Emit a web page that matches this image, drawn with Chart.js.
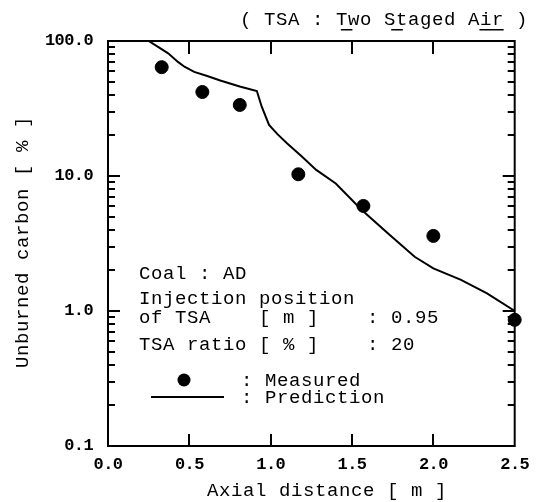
<!DOCTYPE html>
<html><head><meta charset="utf-8">
<script src="https://cdn.jsdelivr.net/npm/chart.js@4/dist/chart.umd.min.js"></script>
<style>html,body{margin:0;padding:0;background:#fff;}#wrap{width:539px;height:502px;position:relative;}</style>
</head><body><div id="wrap"><canvas id="c" width="539" height="502"></canvas></div>
<script>
// ---- data ----
const measuredX = [0.33, 0.58, 0.81, 1.17, 1.57, 2.0, 2.5];
const measuredY = [64, 41.9, 33.6, 10.3, 6.0, 3.6, 0.86];
const predX = [0.25,0.31,0.37,0.43,0.47,0.53,0.61,0.69,0.81,0.915,0.945,0.99,1.04,1.10,1.19,1.28,1.40,1.56,1.72,1.885,2.0,2.17,2.33,2.5];
const predY = [100,90,81,70,64.5,59,55,51,46,42.6,32.6,23.9,20.5,17.5,14,11.1,8.8,5.6,3.77,2.52,2.07,1.70,1.35,1.0];
const xTickValues = [0, 0.5, 1.0, 1.5, 2.0, 2.5];
const xTickLabels = ['0.0', '0.5', '1.0', '1.5', '2.0', '2.5'];
const yTickValues = [0.1, 1, 10, 100];
const yTickLabels = ['0.1', '1.0', '10.0', '100.0'];
const yMinorValues = [0.2,0.3,0.4,0.5,0.6,0.7,0.8,0.9,2,3,4,5,6,7,8,9,20,30,40,50,60,70,80,90];
const titleText = '( TSA : Two Staged Air )';
const xTitle = 'Axial distance [ m ]';
const yTitle = 'Unburned carbon [ % ]';
const noteLines = ['Coal : AD', 'Injection position', 'of TSA    [ m ]    : 0.95', 'TSA ratio [ % ]    : 20'];
const legendLabels = [': Measured', ': Prediction'];

const MONO = '"Liberation Mono", "DejaVu Sans Mono", monospace';

const framePlugin = {
  id: 'frame',
  beforeDraw(chart) {
    chart.ctx.letterSpacing = '-0.6px';
  },
  beforeDatasetsDraw(chart) {
    const {ctx, chartArea: a, scales: {x, y}} = chart;
    ctx.save();
    ctx.strokeStyle = '#000';
    ctx.lineWidth = 2;
    ctx.strokeRect(a.left, a.top, a.right - a.left, a.bottom - a.top);
    ctx.beginPath();
    yTickValues.forEach(v => {
      const py = Math.round(y.getPixelForValue(v));
      ctx.moveTo(a.left, py); ctx.lineTo(a.left + 12, py);
      ctx.moveTo(a.right, py); ctx.lineTo(a.right - 12, py);
    });
    yMinorValues.forEach(v => {
      const py = Math.round(y.getPixelForValue(v));
      ctx.moveTo(a.left, py); ctx.lineTo(a.left + 7, py);
      ctx.moveTo(a.right, py); ctx.lineTo(a.right - 7, py);
    });
    xTickValues.slice(1, -1).forEach(v => {
      const px = Math.round(x.getPixelForValue(v));
      ctx.moveTo(px, a.bottom); ctx.lineTo(px, a.bottom - 12);
      ctx.moveTo(px, a.top); ctx.lineTo(px, a.top + 13);
    });
    ctx.stroke();
    ctx.restore();
  },
  afterDraw(chart) {
    const {ctx} = chart;
    ctx.save();
    ctx.fillStyle = '#000';
    ctx.font = '19px ' + MONO;
    ctx.letterSpacing = '0.6px';
    ctx.textBaseline = 'alphabetic';
    // title
    ctx.textAlign = 'left';
    const tx = 240, ty = 25;
    ctx.fillText(titleText, tx, ty);
    const cw = ctx.measureText('M').width + 0.6;
    ctx.fillRect(tx + cw * 8, ty + 4, cw - 1, 1.5);
    ctx.fillRect(tx + cw * 12, ty + 4, cw - 1, 1.5);
    ctx.fillRect(tx + cw * 19, ty + 4, cw * 2 - 1, 1.5);
    // notes
    const ny = [279, 304, 323, 350];
    noteLines.forEach((t, i) => ctx.fillText(t, 139, ny[i]));
    // legend
    const ds = chart.data.datasets;
    ctx.beginPath();
    ctx.arc(184, 380, ds[1].pointRadius, 0, Math.PI * 2);
    ctx.fill();
    ctx.fillText(legendLabels[0], 241, 386);
    ctx.strokeStyle = ds[0].borderColor;
    ctx.lineWidth = ds[0].borderWidth;
    ctx.beginPath();
    ctx.moveTo(151, 397); ctx.lineTo(224, 397);
    ctx.stroke();
    ctx.fillText(legendLabels[1], 241, 403);
    // axis titles
    ctx.textAlign = 'center';
    ctx.fillText(xTitle, 327, 496);
    ctx.save();
    ctx.translate(28, 242);
    ctx.rotate(-Math.PI / 2);
    ctx.fillText(yTitle, 0, 0);
    ctx.restore();
    ctx.restore();
  }
};

new Chart(document.getElementById('c'), {
  type: 'scatter',
  data: {
    datasets: [
      {
        label: 'Prediction', type: 'line',
        data: predX.map((x, i) => ({x, y: predY[i]})),
        borderColor: '#000', borderWidth: 2, pointRadius: 0, fill: false, tension: 0, order: 2
      },
      {
        label: 'Measured',
        data: measuredX.map((x, i) => ({x, y: measuredY[i]})),
        backgroundColor: '#000', borderColor: '#000', pointRadius: 6.5, pointHoverRadius: 6.5, clip: false, order: 1
      }
    ]
  },
  options: {
    responsive: false, animation: false, devicePixelRatio: 1,
    layout: {padding: {left: 0, right: 17, top: 41, bottom: 0}},
    plugins: {legend: {display: false}, tooltip: {enabled: false}, title: {display: false}},
    scales: {
      x: {
        type: 'linear', min: 0, max: 2.5,
        afterBuildTicks: s => { s.ticks = xTickValues.map(v => ({value: v})); },
        afterFit: s => { s.height = 56; },
        grid: {display: false, drawTicks: false}, border: {display: false},
        ticks: {callback: (v, i) => xTickLabels[i], font: {family: MONO, size: 17, weight: 'bold'}, color: '#000', padding: 9, maxRotation: 0, autoSkip: false}
      },
      y: {
        type: 'logarithmic', min: 0.1, max: 100,
        afterBuildTicks: s => { s.ticks = yTickValues.map(v => ({value: v})); },
        afterFit: s => { s.width = 108; },
        grid: {display: false, drawTicks: false}, border: {display: false},
        ticks: {callback: (v, i) => yTickLabels[i], font: {family: MONO, size: 17, weight: 'bold'}, color: '#000', padding: 15, autoSkip: false}
      }
    }
  },
  plugins: [framePlugin]
});
</script></body></html>
